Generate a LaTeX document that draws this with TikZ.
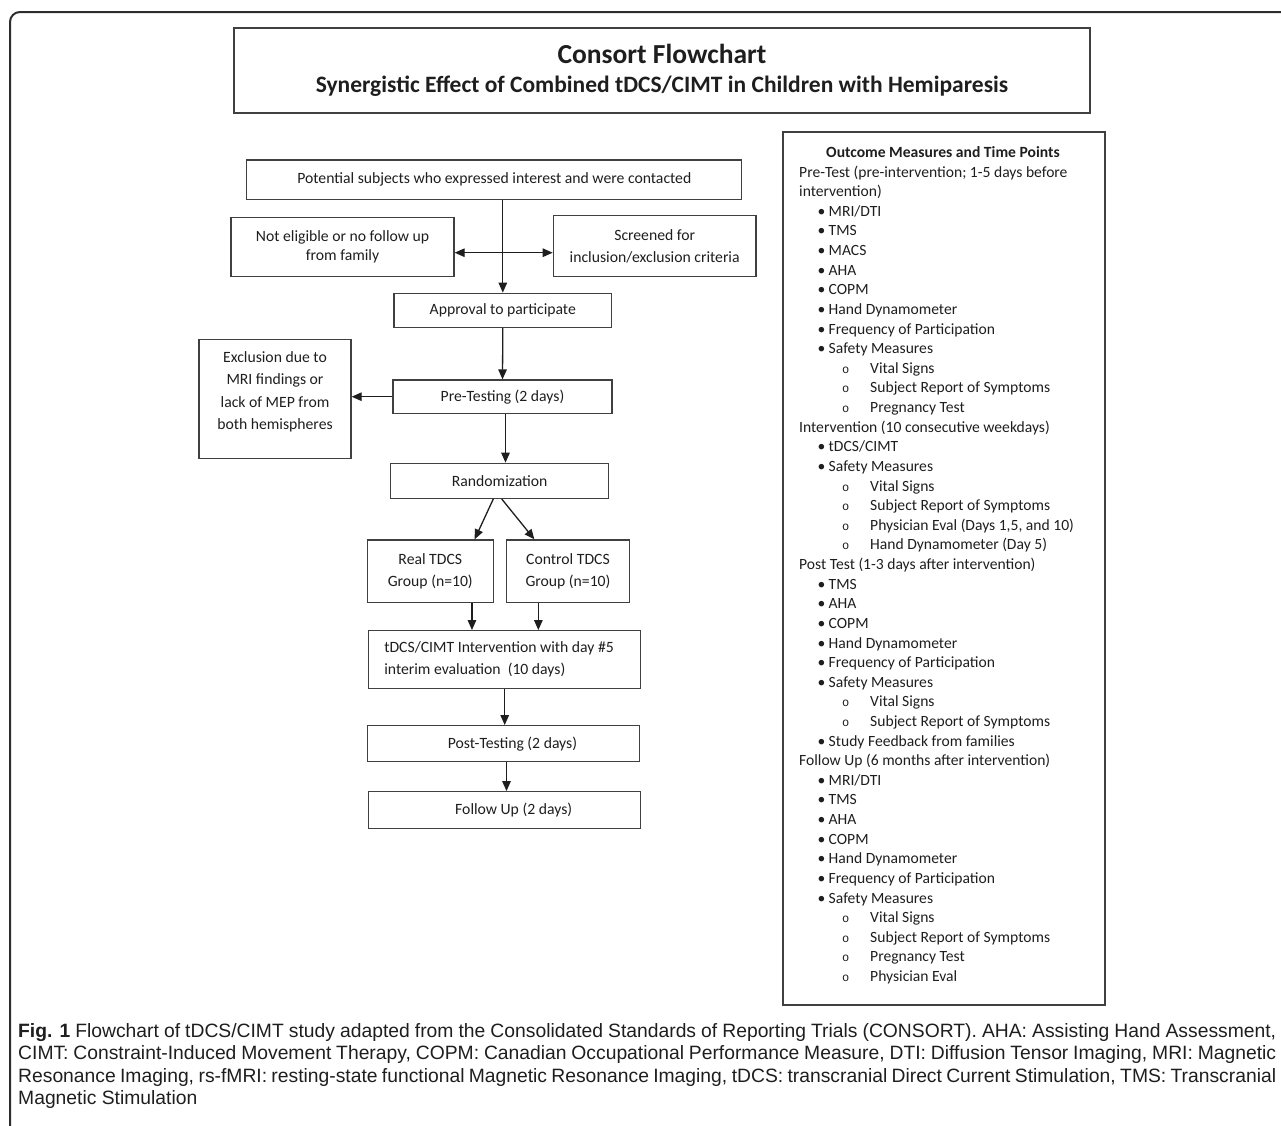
\documentclass[tikz,border=0pt]{standalone}
\usepackage{fontspec}
\setmainfont{Carlito}
\setmonofont{Liberation Mono}
\newfontfamily\capfont{Liberation Sans}
\usetikzlibrary{arrows.meta}
\definecolor{boxgrey}{RGB}{64,64,64}
\definecolor{framegrey}{RGB}{45,45,45}
\definecolor{inkgrey}{RGB}{30,30,30}

\newcommand{\blt}[1]{\hspace*{18.5pt}\makebox[11pt][l]{\textbullet}#1}
\newcommand{\cblt}[1]{\hspace*{43pt}\makebox[28pt][l]{\texttt{\fontsize{12}{12}\selectfont o}}#1}

\begin{document}
\begin{tikzpicture}[x=1pt,y=-1pt,font=\fontsize{15.7}{22}\selectfont]

%
% Styles
%
\tikzstyle{box}   = [draw=boxgrey,line width=1.3pt,inner sep=0pt,align=center,text=inkgrey]
\tikzstyle{edge}  = [-{Triangle[length=10pt,width=8.5pt]},line width=1.3pt,draw=inkgrey]
\tikzstyle{edge2} = [{Triangle[length=10pt,width=8.5pt]}-{Triangle[length=10pt,width=8.5pt]},line width=1.3pt,draw=inkgrey]
\tikzstyle{entry} = [anchor=base west,inner sep=0pt,text=inkgrey,font=\fontsize{15.6}{19}\selectfont]

\useasboundingbox (0,0) rectangle (1281,1125);

% frame
\draw[framegrey,line width=2pt,rounded corners=10pt] (10,1135) -- (10,12) -- (1295,12);

\node[box,minimum width=856pt,minimum height=85pt] (title) at (662,70.5)
  {{\fontsize{27.5}{30}\selectfont\bfseries Consort Flowchart}\\[7pt]
   {\fontsize{23.5}{28}\selectfont\bfseries Synergistic Effect of Combined tDCS/CIMT in Children with Hemiparesis}};

% flowchart
\node[box,minimum width=495pt,minimum height=39.3pt]  (potential)  at (494.3,179.7) {Potential subjects who expressed interest and were contacted};
\node[box,minimum width=223pt,minimum height=59pt]    (noteligible) at (342.5,247.2) {Not eligible or no follow up\\[-3pt]from family};
\node[box,minimum width=202.7pt,minimum height=61pt]  (screened)   at (654.7,246.2) {Screened for\\inclusion/exclusion criteria};
\node[box,minimum width=217.7pt,minimum height=34pt]  (approval)   at (502.8,310.3) {Approval to participate};
\node[box,minimum width=219pt,minimum height=33.3pt]  (pretest)    at (502.5,396.7) {Pre-Testing (2 days)};
\node[box,minimum width=152pt,minimum height=119pt]   (exclusion)  at (275,398.8) {};
\node[align=center,inner sep=0pt,text=inkgrey,font=\fontsize{15.7}{22.3}\selectfont] (exclusiontext) at ([yshift=7pt]exclusion.center)
  {Exclusion due to\\MRI findings or\\lack of MEP from\\both hemispheres};
\node[box,minimum width=218pt,minimum height=35pt]    (random)     at (499.7,480.8) {Randomization};
\node[box,minimum width=126pt,minimum height=62.7pt]  (real)       at (430.3,571.3) {Real TDCS\\Group (n=10)};
\node[box,minimum width=122.6pt,minimum height=62.7pt] (control)   at (568,571.3)   {Control TDCS\\Group (n=10)};
\node[box,minimum width=272pt,minimum height=57.6pt,align=flush left,inner xsep=15.6pt,text width=240.8pt] (interv) at (504.7,659.5)
  {tDCS/CIMT Intervention with day \#5\\interim evaluation~ (10 days)};
\node[box,minimum width=271.6pt,minimum height=36pt]  (post)       at (503.5,743.7) {\hspace*{18pt}Post-Testing (2 days)};
\node[box,minimum width=272pt,minimum height=36.6pt]  (follow)     at (504.7,810)   {\hspace*{18pt}Follow Up (2 days)};

\coordinate (split) at (503.3,252.7);

\draw[edge]  (approval.north |- potential.south) -- (approval.north);
\draw[edge2] (noteligible.east |- split) -- (screened.west |- split);
\draw[edge]  (approval.south) -- (pretest.north);
\draw[edge]  (pretest.west) -- (exclusion.east |- pretest.west);
\draw[edge]  ([xshift=3pt]pretest.south) -- ([xshift=3pt]pretest.south |- random.north);
\draw[edge]  ([xshift=-6.4pt]random.south) -- ([xshift=-19.3pt]real.north east);
\draw[edge]  ([xshift=2pt]random.south) -- ([xshift=28.3pt]control.north west);
\draw[edge]  ([xshift=-22pt]real.south east) -- ([xshift=-22pt]real.south east |- interv.north);
\draw[edge]  ([xshift=32.3pt]control.south west) -- ([xshift=32.3pt]control.south west |- interv.north);
\draw[edge]  (interv.south) -- (interv.south |- post.north);
\draw[edge]  ([xshift=3pt]post.south) -- ([xshift=3pt]post.south |- follow.north);

% outcome measures
\node[box,minimum width=322pt,minimum height=873pt] (measures) at (944,568.5) {};
\foreach \t [count=\i from 0] in {
  {\hspace*{27pt}\textbf{Outcome Measures and Time Points}},
  {Pre-Test (pre-intervention; 1-5 days before},
  {intervention)},
  {\blt{MRI/DTI}}, {\blt{TMS}}, {\blt{MACS}}, {\blt{AHA}}, {\blt{COPM}},
  {\blt{Hand Dynamometer}}, {\blt{Frequency of Participation}}, {\blt{Safety Measures}},
  {\cblt{Vital Signs}}, {\cblt{Subject Report of Symptoms}}, {\cblt{Pregnancy Test}},
  {Intervention (10 consecutive weekdays)},
  {\blt{tDCS/CIMT}}, {\blt{Safety Measures}},
  {\cblt{Vital Signs}}, {\cblt{Subject Report of Symptoms}},
  {\cblt{Physician Eval (Days 1,5, and 10)}}, {\cblt{Hand Dynamometer (Day 5)}},
  {Post Test (1-3 days after intervention)},
  {\blt{TMS}}, {\blt{AHA}}, {\blt{COPM}}, {\blt{Hand Dynamometer}},
  {\blt{Frequency of Participation}}, {\blt{Safety Measures}},
  {\cblt{Vital Signs}}, {\cblt{Subject Report of Symptoms}},
  {\blt{Study Feedback from families}},
  {Follow Up (6 months after intervention)},
  {\blt{MRI/DTI}}, {\blt{TMS}}, {\blt{AHA}}, {\blt{COPM}}, {\blt{Hand Dynamometer}},
  {\blt{Frequency of Participation}}, {\blt{Safety Measures}},
  {\cblt{Vital Signs}}, {\cblt{Subject Report of Symptoms}},
  {\cblt{Pregnancy Test}}, {\cblt{Physician Eval}}}
  \node[entry] (m\i) at (799,157.5+19.62*\i) {\t};

% caption
\node[anchor=north west,inner sep=0pt,text width=1258pt,align=justify,text=inkgrey,
      font=\capfont\fontsize{19.3}{22.4}\selectfont] (caption) at (18,1023)
  {\textbf{Fig. 1} Flowchart of tDCS/CIMT study adapted from the Consolidated Standards of Reporting Trials (CONSORT). AHA: Assisting Hand Assessment,\linebreak
   CIMT: Constraint-Induced Movement Therapy, COPM: Canadian Occupational Performance Measure, DTI: Diffusion Tensor Imaging, MRI: Magnetic\linebreak
   Resonance Imaging, rs-fMRI: resting-state functional Magnetic Resonance Imaging, tDCS: transcranial Direct Current Stimulation, TMS: Transcranial\linebreak
   Magnetic Stimulation};

\end{tikzpicture}
\end{document}
